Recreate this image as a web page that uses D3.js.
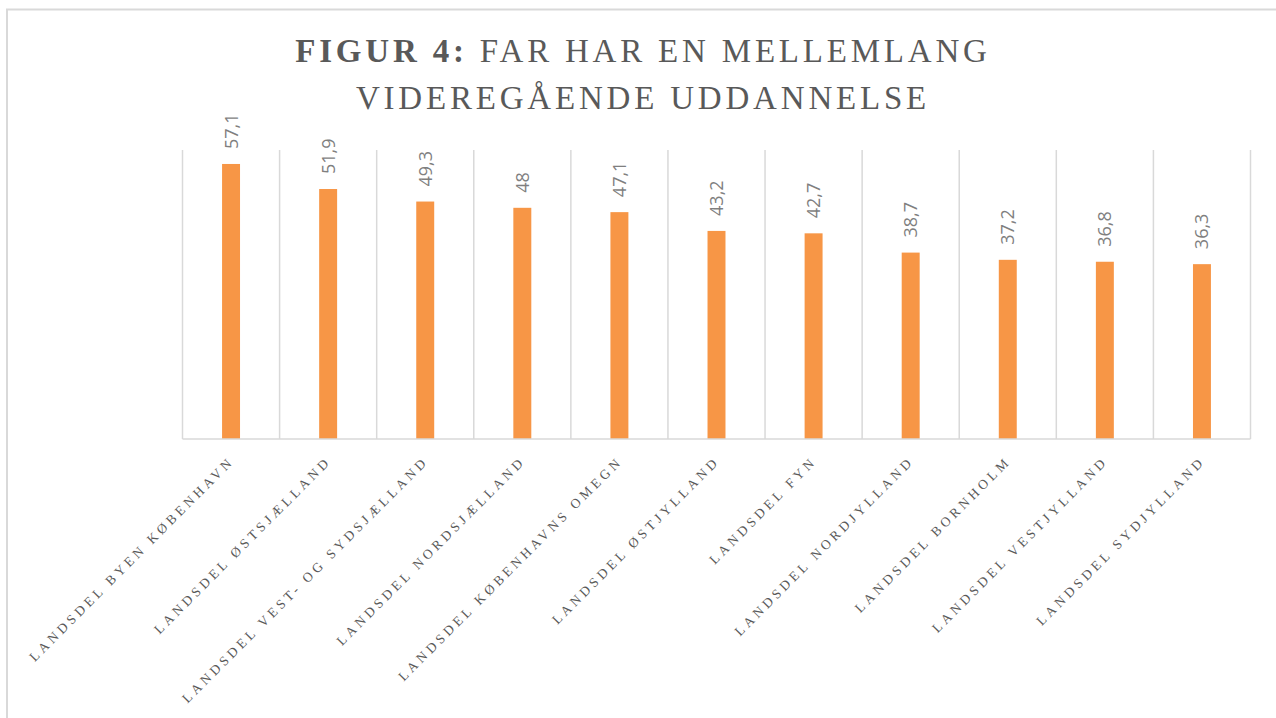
<!DOCTYPE html>
<head>
    <title>Figur 4</title>
    <script src="https://d3js.org/d3.v7.min.js"></script>
</head>
<style>
body {
  margin: 0;
  background: #fff;
}
</style>
<body>
    <svg></svg>
</body>

<script>

    // Data
    var categories = [
        "Landsdel Byen København",
        "Landsdel Østsjælland",
        "Landsdel Vest- og Sydsjælland",
        "Landsdel Nordsjælland",
        "Landsdel Københavns omegn",
        "Landsdel Østjylland",
        "Landsdel Fyn",
        "Landsdel Nordjylland",
        "Landsdel Bornholm",
        "Landsdel Vestjylland",
        "Landsdel Sydjylland"
    ];
    var values = [57.1, 51.9, 49.3, 48, 47.1, 43.2, 42.7, 38.7, 37.2, 36.8, 36.3];
    var yDomain = [0, 60];

    // Variables
    var width = 1276;
    var height = 718;
    var plot = {left: 182.5, right: 1250.5, top: 150, bottom: 439};
    var barColor = "#f79646";
    var gridColor = "#d9d9d9";

    var svg = d3.select('svg')
        .attr('width', width)
        .attr('height', height);

    // Chart area border (runs off the right and bottom edges)
    svg.append('rect')
        .attr('x', 7).attr('y', 9.5)
        .attr('width', width + 20).attr('height', height + 20)
        .attr('fill', 'none')
        .attr('stroke', gridColor)
        .attr('stroke-width', 2);

    // Title
    var title = svg.append('text')
        .attr('text-anchor', 'middle')
        .style('font-family', '"Liberation Serif", "DejaVu Serif", serif')
        .style('font-size', '33px')
        .style('letter-spacing', '3.8px')
        .attr('fill', '#595959');
    var t1 = title.append('tspan').attr('x', 643).attr('y', 62);
    t1.append('tspan').style('font-weight', 'bold').text('FIGUR 4: ');
    t1.append('tspan').text('FAR HAR EN MELLEMLANG');
    title.append('tspan').attr('x', 643).attr('y', 109).text('VIDEREGÅENDE UDDANNELSE');

    // Scales
    var x = d3.scaleBand()
        .domain(categories)
        .range([plot.left, plot.right])
        .padding(0);

    var y = d3.scaleLinear()
        .domain(yDomain)
        .range([plot.bottom, plot.top]);

    var barWidth = x.bandwidth() * 0.185;

    // Vertical gridlines at category boundaries
    var bounds = categories.map(function (d) { return x(d); }).concat([plot.right]);
    svg.append('g')
        .selectAll('line')
        .data(bounds)
        .enter().append('line')
        .attr('x1', function (d) { return d; })
        .attr('x2', function (d) { return d; })
        .attr('y1', plot.top)
        .attr('y2', plot.bottom)
        .attr('stroke', gridColor)
        .attr('stroke-width', 1.5);

    // Bars
    svg.append('g')
        .selectAll('rect')
        .data(values)
        .enter().append('rect')
        .attr('x', function (d, i) { return x(categories[i]) + x.bandwidth() / 2 - barWidth / 2; })
        .attr('y', function (d) { return y(d); })
        .attr('width', barWidth)
        .attr('height', function (d) { return y(0) - y(d); })
        .attr('fill', barColor);

    // Baseline
    svg.append('line')
        .attr('x1', plot.left).attr('x2', plot.right)
        .attr('y1', plot.bottom).attr('y2', plot.bottom)
        .attr('stroke', gridColor)
        .attr('stroke-width', 1.5);

    // Value labels (rotated)
    svg.append('g')
        .selectAll('text')
        .data(values)
        .enter().append('text')
        .attr('transform', function (d, i) {
            var cx = x(categories[i]) + x.bandwidth() / 2 + 6.5;
            return 'translate(' + cx + ',' + (y(d) - 15) + ')rotate(-90)';
        })
        .style('font-family', '"Open Sans", sans-serif')
        .style('font-size', '18px')
        .attr('fill', '#7f7f7f')
        .text(function (d) { return String(d).replace('.', ','); });

    // Category labels
    svg.append('g')
        .selectAll('text')
        .data(categories)
        .enter().append('text')
        .attr('transform', function (d) {
            var cx = x(d) + x.bandwidth() / 2 + 4;
            return 'translate(' + cx + ',' + 462 + ')rotate(-45)';
        })
        .attr('text-anchor', 'end')
        .style('font-family', '"Liberation Serif", "DejaVu Serif", serif')
        .style('font-size', '13.5px')
        .style('letter-spacing', '3.7px')
        .attr('fill', '#595959')
        .text(function (d) { return d.toUpperCase(); });

</script>
